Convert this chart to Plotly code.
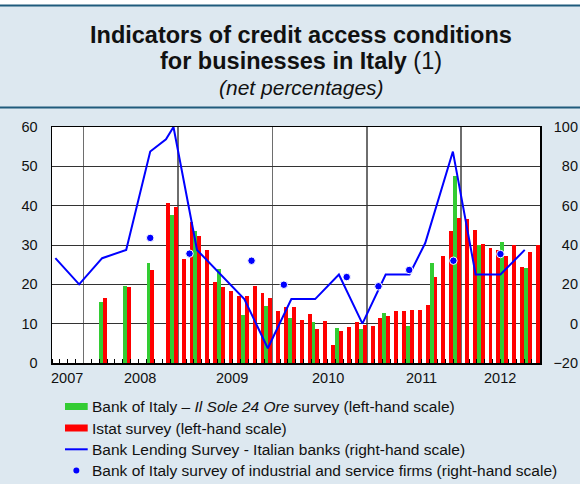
import plotly.graph_objects as go
import pandas as pd

# ---------------- data ----------------
istat_months = [
    "2008-03", "2008-06", "2008-09", "2008-11", "2008-12",
    "2009-01", "2009-02", "2009-03", "2009-04", "2009-05", "2009-06",
    "2009-07", "2009-08", "2009-09", "2009-10", "2009-11", "2009-12",
    "2010-01", "2010-02", "2010-03", "2010-04", "2010-05", "2010-06",
    "2010-07", "2010-08", "2010-09", "2010-10", "2010-11", "2010-12",
    "2011-01", "2011-02", "2011-03", "2011-04", "2011-05", "2011-06",
    "2011-07", "2011-08", "2011-09", "2011-10", "2011-11", "2011-12",
    "2012-01", "2012-02", "2012-03", "2012-04", "2012-05", "2012-06",
    "2012-07", "2012-08", "2012-09", "2012-10",
]
istat_values = [
    16.4, 19.4, 23.7, 40.8, 39.7,
    26.5, 35.9, 32.4, 28.8, 20.7, 19.4,
    18.4, 17.0, 17.0, 19.7, 17.9, 16.4,
    13.3, 14.3, 14.3, 11.0, 12.5, 8.7,
    10.8, 4.7, 8.2, 9.2, 10.5, 9.7,
    9.5, 11.5, 12.0, 13.3, 13.3, 13.6,
    13.6, 14.8, 21.9, 27.3, 33.6, 36.9,
    36.7, 33.9, 30.3, 29.3, 28.8, 27.3,
    30.1, 24.5, 28.3, 30.1,
]

sole_months = [
    "2008-03", "2008-06", "2008-09", "2008-12",
    "2009-03", "2009-06", "2009-09", "2009-12",
    "2010-03", "2010-06", "2010-09", "2010-12",
    "2011-03", "2011-06", "2011-09", "2011-12",
    "2012-03", "2012-06", "2012-09",
]
sole_values = [
    15.6, 19.7, 25.3, 37.7,
    33.6, 23.9, 12.3, 14.6,
    11.5, 10.3, 9.0, 8.7,
    12.8, 9.5, 25.3, 47.6,
    30.1, 30.8, 24.2,
]

bls_dates = [
    "2007-09-14", "2007-12-15", "2008-03-13", "2008-06-14", "2008-09-15",
    "2008-11-15", "2008-12-14", "2009-03-15", "2009-09-14", "2009-12-14",
    "2010-03-15", "2010-06-15", "2010-09-15", "2010-12-15", "2011-03-15",
    "2011-06-15", "2011-08-15", "2011-11-30", "2012-02-26", "2012-06-01",
    "2012-09-03",
]
bls_values = [
    33.3, 20.0, 33.3, 37.5, 87.5,
    93.7, 100.0, 37.5, 12.5, -12.5,
    12.5, 12.5, 25.0, 0.0, 25.0,
    25.0, 41.0, 87.5, 25.0, 25.0,
    37.5,
]

firm_dates = [
    "2008-09-15", "2009-02-14", "2009-10-12", "2010-02-14", "2010-10-15",
    "2011-02-15", "2011-06-14", "2011-12-02", "2012-06-01",
]
firm_values = [43.6, 35.6, 32.0, 19.8, 23.7, 19.0, 27.3, 32.0, 35.4]

year_labels = ["2007", "2008", "2009", "2010", "2011", "2012"]
year_label_dates = ["2007-10-29", "2008-08-08", "2009-07-30", "2010-08-04", "2011-07-31", "2012-05-31"]

left_ticks = [0, 10, 20, 30, 40, 50, 60]
right_ticks = [-20, 0, 20, 40, 60, 80, 100]
x_range = ["2007-09-01", "2012-11-01"]

series_names = [
    "Bank of Italy – <i>Il Sole 24 Ore</i> survey (left-hand scale)",
    "Istat survey (left-hand scale)",
    "Bank Lending Survey - Italian banks (right-hand scale)",
    "Bank of Italy survey of industrial and service firms (right-hand scale)",
]
title_lines = [
    "<b>Indicators of credit access conditions</b>",
    "<b>for businesses in Italy</b> (1)",
    "<i>(net percentages)</i>",
]

# ---------------- styling / layout constants ----------------
W, H = 580, 484
PL, PR, PT, PB = 52, 540, 127, 363        # plot area in page pixels
BG = "#dde8f0"
TEAL = "#1f5b7c"
GREEN = "#33cc33"
RED = "#ff0000"
BLUE = "#0000ff"
FONT = "Liberation Sans, Arial, sans-serif"
TXT = "#111111"


def py(ypx):
    """page pixel y -> paper fraction"""
    return (PB - ypx) / (PB - PT)


def px(xpx):
    """page pixel x -> paper fraction (paper spans PL..W since r margin = 0)"""
    return (xpx - PL) / (W - PL)


def month_span(m):
    s = pd.Timestamp(m + "-01")
    e = s + pd.offsets.MonthBegin(1)
    return s, (e - s).total_seconds() * 1000.0


# bars: green occupies first half of its month, red the second half
sole_x, sole_w = zip(*[month_span(m) for m in sole_months])
istat_x, istat_w = zip(*[month_span(m) for m in istat_months])

fig = go.Figure()
fig.add_trace(go.Bar(
    x=list(sole_x), y=sole_values, name=series_names[0],
    width=[w / 2 for w in sole_w], offset=[0.0 for w in sole_w],
    marker=dict(color=GREEN, line=dict(width=0)), yaxis="y", showlegend=False,
))
fig.add_trace(go.Bar(
    x=list(istat_x), y=istat_values, name=series_names[1],
    width=[w / 2 for w in istat_w], offset=[w / 2 for w in istat_w],
    marker=dict(color=RED, line=dict(width=0)), yaxis="y", showlegend=False,
))
fig.add_trace(go.Scatter(
    x=bls_dates, y=bls_values, name=series_names[2], mode="lines",
    line=dict(color=BLUE, width=2), yaxis="y2", showlegend=False,
))
fig.add_trace(go.Scatter(
    x=firm_dates, y=firm_values, name=series_names[3], mode="markers",
    marker=dict(color=BLUE, size=7.5, line=dict(color="white", width=1)),
    yaxis="y2", showlegend=False,
))

# ---------------- decorations ----------------
shapes = [
    # white strip at the very top + teal rules of the title band
    dict(type="rect", xref="paper", yref="paper", x0=px(0), x1=px(W), y0=py(0), y1=py(5),
         fillcolor="white", line=dict(width=0), layer="below"),
    dict(type="line", xref="paper", yref="paper", x0=px(0), x1=px(W), y0=py(5.5), y1=py(5.5),
         line=dict(color=TEAL, width=2.2)),
    dict(type="line", xref="paper", yref="paper", x0=px(0), x1=px(W), y0=py(107.5), y1=py(107.5),
         line=dict(color=TEAL, width=2.2)),
]

annotations = []
title_y = [35, 61.5, 87.5]
title_size = [23.5, 23.5, 21]
for t, yy, fs in zip(title_lines, title_y, title_size):
    annotations.append(dict(text=t, xref="paper", yref="paper", x=px(301), y=py(yy),
                            xanchor="center", yanchor="middle", showarrow=False,
                            font=dict(family=FONT, size=fs, color=TXT)))

for lab, d in zip(year_labels, year_label_dates):
    annotations.append(dict(text=lab, xref="x", yref="paper", x=d, y=py(377.5),
                            xanchor="center", yanchor="middle", showarrow=False,
                            font=dict(family=FONT, size=14.5, color=TXT)))

# custom legend
leg_rows = [406.5, 428, 449.3, 470.5]
sw_x0, sw_x1, txt_x = 65, 87.7, 90
for i, (name, yy) in enumerate(zip(series_names, leg_rows)):
    if i < 2:
        shapes.append(dict(type="rect", xref="paper", yref="paper",
                           x0=px(sw_x0), x1=px(sw_x1), y0=py(yy - 3.5), y1=py(yy + 3.5),
                           fillcolor=[GREEN, RED][i], line=dict(width=0)))
    elif i == 2:
        shapes.append(dict(type="line", xref="paper", yref="paper",
                           x0=px(sw_x0), x1=px(sw_x1), y0=py(yy), y1=py(yy),
                           line=dict(color=BLUE, width=2)))
    else:
        cx = (sw_x0 + sw_x1) / 2
        shapes.append(dict(type="circle", xref="paper", yref="paper",
                           x0=px(cx - 3), x1=px(cx + 3), y0=py(yy - 3), y1=py(yy + 3),
                           fillcolor=BLUE, line=dict(width=0)))
    annotations.append(dict(text=name, xref="paper", yref="paper", x=px(txt_x), y=py(yy),
                            xanchor="left", yanchor="middle", showarrow=False,
                            font=dict(family=FONT, size=15.5, color=TXT)))

fig.update_layout(
    width=W, height=H,
    margin=dict(l=PL, r=0, t=PT, b=H - PB, pad=0),
    paper_bgcolor=BG, plot_bgcolor="white",
    barmode="overlay", bargap=0,
    font=dict(family=FONT, size=14.5, color=TXT),
    showlegend=False,
    xaxis=dict(
        type="date", range=x_range, domain=[0, (PR - PL) / (W - PL)],
        tick0="2008-01-01", dtick="M12", ticks="", showticklabels=False,
        showgrid=True, gridcolor="#6e6e6e", gridwidth=1.5,
        showline=True, linecolor="black", linewidth=1.5, mirror=True,
        zeroline=False, fixedrange=True,
        minor=dict(tick0="2007-09-01", dtick="M1", ticks="inside", ticklen=4,
                   tickcolor="black", tickwidth=1, showgrid=False),
    ),
    yaxis=dict(
        range=[left_ticks[0], left_ticks[-1]], tickmode="array", tickvals=left_ticks,
        ticks="", ticklabelstandoff=10, showgrid=True, gridcolor="#333333", gridwidth=1,
        showline=True, linecolor="black", linewidth=1.5, mirror=True,
        zeroline=False, fixedrange=True, tickfont=dict(size=14.5),
    ),
    yaxis2=dict(
        range=[right_ticks[0], right_ticks[-1]], tickmode="array", tickvals=right_ticks,
        overlaying="y", anchor="free", position=1, side="left",
        ticks="", ticklabelstandoff=2, showgrid=False, showline=False,
        zeroline=False, fixedrange=True, tickfont=dict(size=14.5),
    ),
    shapes=shapes,
    annotations=annotations,
)

fig.write_html(
    "out.html",
    config={"displayModeBar": False, "staticPlot": True},
    post_script="document.body.style.margin='0px';",
)
